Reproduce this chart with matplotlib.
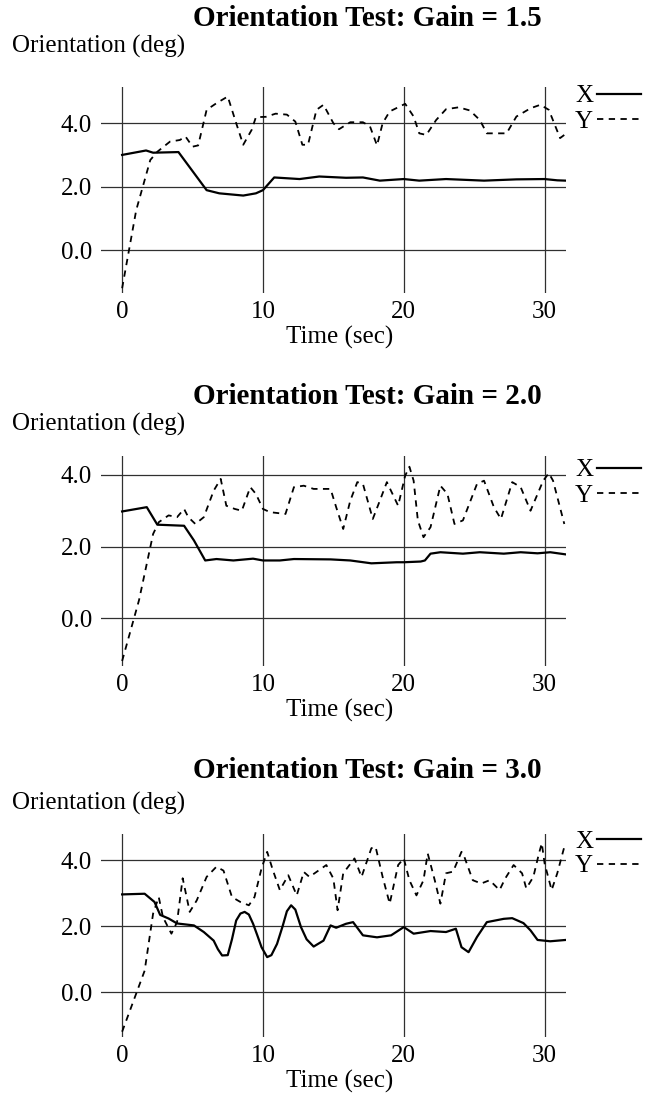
import numpy as np
import matplotlib
matplotlib.use("Agg")
import matplotlib.pyplot as plt
from matplotlib.ticker import FormatStrFormatter

plt.rcParams['font.family'] = ['Liberation Serif', 'DejaVu Serif']
plt.rcParams['font.size'] = 18

gains = ['1.5', '2.0', '3.0']

# --- Gain = 1.5 ---
t1_x = [0, 1.7, 2.2, 4.0, 6.0, 6.9, 8.6, 9.5, 10.0, 10.8, 12.6, 14.0, 15.9, 17.1, 18.3,
        20.0, 21.1, 23.0, 25.7, 28.0, 30.0, 30.9, 31.5]
x1 = [3.0, 3.14, 3.07, 3.09, 1.89, 1.79, 1.72, 1.79, 1.89, 2.29, 2.24, 2.32, 2.28, 2.29, 2.19,
      2.24, 2.19, 2.24, 2.19, 2.23, 2.24, 2.2, 2.19]
t1_y = [0, 1.0, 2.0, 2.5, 3.4, 4.1, 4.5, 5.0, 5.4, 6.0, 6.7, 7.5, 8.1, 8.6, 9.2,
        9.5, 10.2, 10.9, 11.7, 12.3, 12.8, 13.2, 13.8, 14.3, 15.0, 15.4, 16.2, 17.1, 17.6, 18.1,
        18.5, 19.0, 20.1, 20.7, 21.1, 21.6, 22.3, 23.0, 23.9, 24.7, 25.4, 25.9, 27.3, 28.0, 29.0,
        29.7, 30.3, 31.1, 31.4]
y1 = [-1.2, 1.26, 2.84, 3.1, 3.42, 3.47, 3.58, 3.26, 3.3, 4.42, 4.63, 4.84, 4.0, 3.32, 3.79,
      4.19, 4.2, 4.3, 4.27, 4.05, 3.32, 3.32, 4.42, 4.58, 4.0, 3.81, 4.03, 4.03, 3.9, 3.3,
      4.0, 4.37, 4.61, 4.21, 3.68, 3.63, 4.1, 4.44, 4.5, 4.4, 4.1, 3.68, 3.68, 4.21, 4.47,
      4.58, 4.42, 3.53, 3.63]

# --- Gain = 2.0 ---
t2_x = [0, 1.75, 2.5, 4.4, 5.1, 5.9, 6.7, 7.9, 9.3, 10.0, 11.2, 12.2, 14.8, 16.2, 17.7,
        19.5, 20.0, 21.2, 21.5, 21.9, 22.6, 24.2, 25.4, 27.1, 28.3, 29.5, 30.4, 31.5]
x2 = [2.98, 3.1, 2.61, 2.58, 2.17, 1.61, 1.65, 1.61, 1.66, 1.61, 1.61, 1.65, 1.64, 1.61, 1.53,
      1.56, 1.56, 1.58, 1.61, 1.8, 1.84, 1.8, 1.84, 1.8, 1.84, 1.81, 1.84, 1.78]
t2_y = [0, 1.2, 2.2, 2.6, 3.3, 3.9, 4.4, 4.7, 5.2, 5.8, 6.5, 7.0, 7.4, 8.0, 8.5,
        9.1, 9.5, 10.0, 10.5, 11.6, 12.2, 12.9, 13.6, 14.8, 15.2, 15.7, 16.2, 16.7, 17.1, 17.8,
        18.3, 18.8, 19.6, 20.1, 20.4, 20.7, 21.0, 21.4, 21.9, 22.6, 23.1, 23.6, 24.2, 25.2, 25.7,
        26.4, 26.9, 27.7, 28.3, 29.0, 29.9, 30.3, 30.6, 31.4]
y2 = [-1.2, 0.5, 2.35, 2.68, 2.87, 2.82, 3.05, 2.82, 2.63, 2.82, 3.56, 3.89, 3.14, 3.05, 3.0,
      3.66, 3.47, 3.05, 2.96, 2.91, 3.66, 3.7, 3.61, 3.61, 3.1, 2.49, 3.28, 3.8, 3.75, 2.77,
      3.28, 3.8, 3.14, 3.98, 4.23, 3.84, 2.73, 2.26, 2.54, 3.7, 3.47, 2.63, 2.73, 3.75, 3.84,
      3.1, 2.77, 3.8, 3.66, 3.0, 3.84, 4.05, 3.84, 2.63]

# --- Gain = 3.0 ---
t3_x = [0, 1.6, 2.3, 2.7, 3.3, 3.9, 5.1, 5.8, 6.5, 6.8, 7.1, 7.5, 7.8, 8.1, 8.4, 8.7, 9.0, 9.3,
        9.6, 9.9, 10.3, 10.6, 11.0, 11.4, 11.7, 12.0, 12.3, 12.7, 13.1, 13.6, 14.3, 14.8, 15.2,
        15.9, 16.4, 17.1, 18.1, 19.1, 20.0, 20.7, 21.9, 23.0, 23.7, 24.1, 24.6, 25.2, 25.9,
        27.1, 27.7, 28.5, 29.0, 29.5, 30.4, 31.5]
x3 = [2.96, 2.98, 2.73, 2.34, 2.23, 2.08, 2.02, 1.82, 1.56, 1.3, 1.11, 1.12, 1.6, 2.17, 2.38,
      2.43, 2.35, 2.07, 1.72, 1.36, 1.06, 1.12, 1.46, 2.0, 2.45, 2.63, 2.5, 1.97, 1.6, 1.38,
      1.56, 2.02, 1.95, 2.07, 2.12, 1.72, 1.66, 1.72, 1.97, 1.77, 1.85, 1.82, 1.92, 1.36, 1.21,
      1.67, 2.12, 2.22, 2.24, 2.09, 1.87, 1.58, 1.54, 1.58]
t3_y = [0, 1.6, 2.2, 2.6, 2.9, 3.5, 3.9, 4.3, 4.8, 5.3, 6.0, 6.7, 7.2, 7.8, 8.4,
        9.0, 9.4, 9.9, 10.3, 10.7, 11.2, 11.8, 12.4, 12.9, 13.3, 14.0, 14.5, 15.0, 15.3,
        15.7, 16.5, 17.0, 17.7, 18.0, 18.5, 19.0, 19.6, 20.0, 20.4, 20.9, 21.4, 21.7, 22.2,
        22.6, 23.0, 23.5, 24.1, 24.3, 24.9, 25.5, 26.1, 26.8, 27.2, 27.8, 28.4, 28.7, 29.2,
        29.6, 29.8, 30.0, 30.5, 30.9, 31.4]
y3 = [-1.2, 0.65, 2.38, 2.88, 2.27, 1.77, 2.12, 3.45, 2.43, 2.78, 3.49, 3.8, 3.68, 2.88, 2.73,
      2.63, 2.88, 3.75, 4.25, 3.7, 3.09, 3.54, 2.93, 3.64, 3.49, 3.7, 3.85, 3.44, 2.48,
      3.6, 4.05, 3.49, 4.36, 4.4, 3.49, 2.68, 3.85, 4.05, 3.39, 2.93, 3.39, 4.2, 3.39,
      2.68, 3.6, 3.65, 4.25, 4.1, 3.39, 3.29, 3.39, 3.09, 3.44, 3.85, 3.6, 3.14, 3.49,
      4.2, 4.51, 3.9, 3.09, 3.6, 4.4]

series = [(t1_x, x1, t1_y, y1), (t2_x, x2, t2_y, y2), (t3_x, x3, t3_y, y3)]
xticks = [0, 10, 20, 30]
yticks = [0, 2, 4]

# layout in pixels (figure is 648 x 1098)
W, H = 648, 1098
axes_px = [(101, 87, 566, 293), (101, 456, 566, 666), (101, 834, 566, 1037)]
ylims = [(-1.35, 5.14), (-1.34, 4.53), (-1.36, 4.79)]
title_y = [18, 396, 771]
ylabel_y = [46, 424, 803]
legend_top = [85, 459, 830]

dash = (0, (3.5, 3))

fig = plt.figure(figsize=(W / 100, H / 100), dpi=100)

for i, (tx, xv, ty, yv) in enumerate(series):
    l, t, r, b = axes_px[i]
    ax = fig.add_axes([l / W, 1 - b / H, (r - l) / W, (b - t) / H])
    ax.plot(tx, xv, color='black', lw=1.6, label='X')
    ax.plot(ty, yv, color='black', lw=1.3, linestyle=dash, label='Y')
    ax.set_xlim(-1.5, 31.52)
    ax.set_ylim(*ylims[i])
    ax.set_xticks(xticks)
    ax.set_yticks(yticks)
    ax.yaxis.set_major_formatter(FormatStrFormatter('%.1f'))
    ax.tick_params(length=0, labelsize=18)
    ax.tick_params(axis='y', pad=6.5)
    ax.tick_params(axis='x', pad=6)
    ax.grid(True, color='#303030', lw=0.9)
    ax.set_axisbelow(True)
    for s in ax.spines.values():
        s.set_visible(False)
    ax.set_xlabel('Time (sec)', fontsize=18, va='center')
    ax.xaxis.set_label_coords((340 - l) / (r - l), -44 / (b - t))

    leg = ax.legend(loc='upper left', bbox_to_anchor=((575 - l) / (r - l), (b - legend_top[i]) / (b - t)),
                    frameon=False, markerfirst=False, handlelength=1.75, handletextpad=0.15,
                    labelspacing=0.1, borderpad=0, borderaxespad=0, fontsize=18)

    fig.text(367 / W, 1 - title_y[i] / H, 'Orientation Test: Gain = ' + gains[i],
             ha='center', va='center', fontsize=21, fontweight='bold')
    fig.text(12 / W, 1 - ylabel_y[i] / H, 'Orientation (deg)', ha='left', va='center', fontsize=18)

fig.savefig('out.png', dpi=100)
